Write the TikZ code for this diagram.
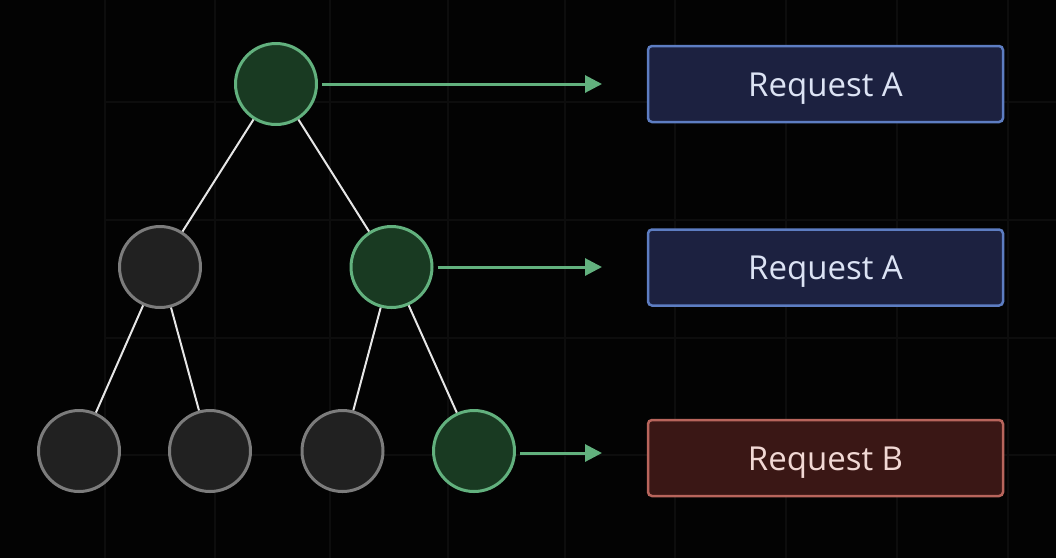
\documentclass[tikz,border=0pt]{standalone}
\usepackage{fontspec}
\setmainfont{Open Sans}
\newfontfamily\reqfont{Open Sans}
\usetikzlibrary{arrows.meta}
\definecolor{bgc}{HTML}{030303}
\definecolor{gridc}{HTML}{0D0D0D}
\definecolor{gfill}{HTML}{193A22}
\definecolor{gline}{HTML}{62B17E}
\definecolor{nfill}{HTML}{212121}
\definecolor{nline}{HTML}{7C7C7C}
\definecolor{edgec}{HTML}{E6E6E6}
\definecolor{bfill}{HTML}{1C2140}
\definecolor{bline}{HTML}{5D7DC2}
\definecolor{btext}{HTML}{DCE3F4}
\definecolor{rfill}{HTML}{3A1715}
\definecolor{rline}{HTML}{B8655C}
\definecolor{rtext}{HTML}{F1D8D4}
\tikzset{
  treenode/.style={circle, minimum size=81pt, inner sep=0pt, line width=3pt, draw=nline, fill=nfill},
  hitnode/.style={treenode, draw=gline, fill=gfill},
  edge/.style={draw=edgec, line width=2pt},
  arr/.style={draw=gline, line width=3pt, shorten <=4pt, -{Triangle[length=17pt,width=17pt]}},
  reqbox/.style={rectangle, rounded corners=4pt, line width=2.5pt, minimum width=355pt, minimum height=76pt, text height=24pt, text depth=0pt, font=\reqfont\fontsize{33}{38}\selectfont},
  boxA/.style={reqbox, draw=bline, fill=bfill, text=btext},
  boxB/.style={reqbox, draw=rline, fill=rfill, text=rtext},
}
\begin{document}
\begin{tikzpicture}[x=1pt,y=-1pt]
\fill[bgc] (0,0) rectangle (1056,558);
\useasboundingbox (0,0) rectangle (1056,558);
\foreach \x in {105,215,330,448,565,675,786,897,1008}
  \draw[gridc, line width=1.5pt] (\x,0) -- (\x,558);
\foreach \y in {102,220,338,455}
  \draw[gridc, line width=1.5pt] (105,\y) -- (1056,\y);

\node[hitnode] (root) at (276,84) {};
\node[treenode] (l) at (160,267) {};
\node[hitnode] (r) at (391.5,267) {};
\node[treenode] (ll) at (79,451) {};
\node[treenode] (lr) at (210,451) {};
\node[treenode] (rl) at (342.5,451) {};
\node[hitnode] (rr) at (474,451) {};

\draw[edge] (root) -- (l);
\draw[edge] (root) -- (r);
\draw[edge] (l) -- (ll);
\draw[edge] (l) -- (lr);
\draw[edge] (r) -- (rl);
\draw[edge] (r) -- (rr);

\node[boxA] (ra1) at (825.5,84) {Request A};
\node[boxA] (ra2) at (825.5,267.5) {Request A};
\node[boxB] (rb) at (825.5,458) {Request B};

\coordinate (t1) at (602,84);
\coordinate (t2) at (602,267);
\coordinate (t3) at (602,453);
\draw[arr] (root.east) -- (t1);
\draw[arr] (r.east) -- (t2);
\draw[arr] (rr.east |- t3) -- (t3);
\end{tikzpicture}
\end{document}
